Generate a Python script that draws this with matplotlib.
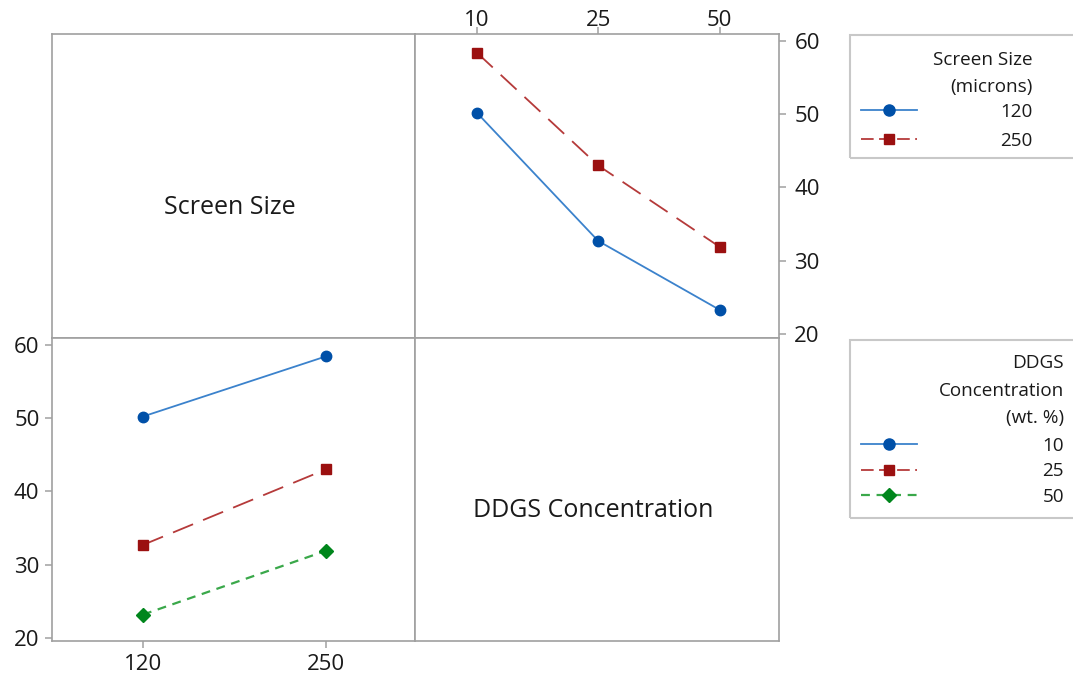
import matplotlib
matplotlib.use("Agg")
import matplotlib.pyplot as plt
from matplotlib.lines import Line2D
from matplotlib.patches import Rectangle

plt.rcParams['font.family'] = ['Open Sans', 'DejaVu Sans']

# ---- data ----
screen_sizes = ["120", "250"]
ddgs_levels = ["10", "25", "50"]
# response means by screen size across DDGS levels
mean_screen120 = [50.2, 32.7, 23.3]
mean_screen250 = [58.4, 43.0, 31.9]
# response means by DDGS level across screen sizes
mean_ddgs10 = [50.2, 58.4]
mean_ddgs25 = [32.7, 43.0]
mean_ddgs50 = [23.2, 31.9]
y_ticks = [20, 30, 40, 50, 60]

W, H = 1073, 680
fig = plt.figure(figsize=(W / 100, H / 100), dpi=100)

GRAY = "#a0a0a0"
TXT = "#1a1a1a"
BLUE_M, BLUE_L = "#0050a8", "#3b82cc"
RED_M, RED_L = "#9b1010", "#b53a3a"
GRN_M, GRN_L = "#00861c", "#3aa84a"

x0, x1, x2 = 52, 415, 779
y0, y1, y2 = 34, 338, 641


def fr(l, t, r, b):
    return [l / W, 1 - b / H, (r - l) / W, (b - t) / H]


ax_tl = fig.add_axes(fr(x0, y0, x1, y1))
ax_tr = fig.add_axes(fr(x1, y0, x2, y1))
ax_bl = fig.add_axes(fr(x0, y1, x1, y2))
ax_br = fig.add_axes(fr(x1, y1, x2, y2))

for ax in (ax_tl, ax_tr, ax_bl, ax_br):
    for s in ax.spines.values():
        s.set_color(GRAY)
        s.set_linewidth(1.2)
    ax.tick_params(colors=GRAY, labelcolor=TXT, labelsize=16, length=5, width=1.1, pad=4)

for ax, txt in ((ax_tl, "Screen Size"), (ax_br, "DDGS Concentration")):
    ax.set_xticks([])
    ax.set_yticks([])
    ax.text(0.49, 0.43, txt, transform=ax.transAxes, ha="center", va="center",
            fontsize=18, color=TXT)

lw = 1.3
dash_red = (0, (12, 6))
dash_grn = (0, (4, 3))

# top-right: x = DDGS levels, lines = screen size
xs3 = list(range(len(ddgs_levels)))
ax_tr.plot(xs3, mean_screen120, color=BLUE_L, lw=lw, marker="o", ms=7.5,
           mfc=BLUE_M, mec=BLUE_M)
ax_tr.plot(xs3, mean_screen250, color=RED_L, lw=lw, ls=dash_red, marker="s", ms=7,
           mfc=RED_M, mec=RED_M)
ax_tr.set_xlim(-0.51, 2.49)
ax_tr.set_ylim(19.45, 60.95)
ax_tr.set_xticks(xs3)
ax_tr.set_xticklabels(ddgs_levels)
ax_tr.set_yticks(y_ticks)
ax_tr.xaxis.tick_top()
ax_tr.yaxis.tick_right()
ax_tr.tick_params(axis="y", pad=6)
ax_tr.tick_params(axis="x", pad=-3)

# bottom-left: x = screen size, lines = DDGS
xs2 = list(range(len(screen_sizes)))
ax_bl.plot(xs2, mean_ddgs10, color=BLUE_L, lw=lw, marker="o", ms=7.5,
           mfc=BLUE_M, mec=BLUE_M)
ax_bl.plot(xs2, mean_ddgs25, color=RED_L, lw=lw, ls=dash_red, marker="s", ms=7,
           mfc=RED_M, mec=RED_M)
ax_bl.plot(xs2, mean_ddgs50, color=GRN_L, lw=lw + 0.3, ls=dash_grn, marker="D", ms=7,
           mfc=GRN_M, mec=GRN_M)
ax_bl.set_xlim(-0.497, 1.486)
ax_bl.set_ylim(19.6, 60.9)
ax_bl.set_xticks(xs2)
ax_bl.set_xticklabels(screen_sizes)
ax_bl.set_yticks(y_ticks)

# legend boxes
for (t, b) in ((35, 158), (340, 518)):
    fig.patches.append(Rectangle((850 / W, 1 - b / H), 240 / W, (b - t) / H,
                                 transform=fig.transFigure, fill=False,
                                 edgecolor="#c8c8c8", lw=1.5))

h_blue = Line2D([], [], color=BLUE_L, lw=lw, marker="o", ms=8, mfc=BLUE_M, mec=BLUE_M)
h_red = Line2D([], [], color=RED_L, lw=lw, ls=(0, (7, 3)), marker="s", ms=7.5, mfc=RED_M, mec=RED_M)
h_grn = Line2D([], [], color=GRN_L, lw=lw + 0.3, ls=dash_grn, marker="D", ms=7.5, mfc=GRN_M, mec=GRN_M)

LFS = 13.6
leg1 = fig.legend([h_blue, h_red], screen_sizes, title="Screen Size\n(microns)",
                  loc="upper left", bbox_to_anchor=(848 / W, 1 - 38 / H),
                  frameon=False, fontsize=LFS, title_fontsize=LFS, alignment="right",
                  handlelength=2.95, handletextpad=4.4, labelspacing=0.58, borderpad=0.2)
leg1.get_title().set_multialignment("right")
leg1.get_title().set_linespacing(1.65)
leg1._legend_box.sep = 0.58 * LFS - 3

leg2 = fig.legend([h_blue, h_red, h_grn], ddgs_levels,
                  title="DDGS\nConcentration\n(wt. %)",
                  loc="upper left", bbox_to_anchor=(848 / W, 1 - 341 / H),
                  frameon=False, fontsize=LFS, title_fontsize=LFS, alignment="right",
                  handlelength=2.95, handletextpad=6.65, labelspacing=0.4, borderpad=0.2)
leg2.get_title().set_multialignment("right")
leg2.get_title().set_linespacing(1.68)
leg2._legend_box.sep = 0.4 * LFS + 1.5

for leg in (leg1, leg2):
    for t in leg.get_texts():
        t.set_color(TXT)
    leg.get_title().set_color(TXT)

fig.savefig("out.png", dpi=100)
